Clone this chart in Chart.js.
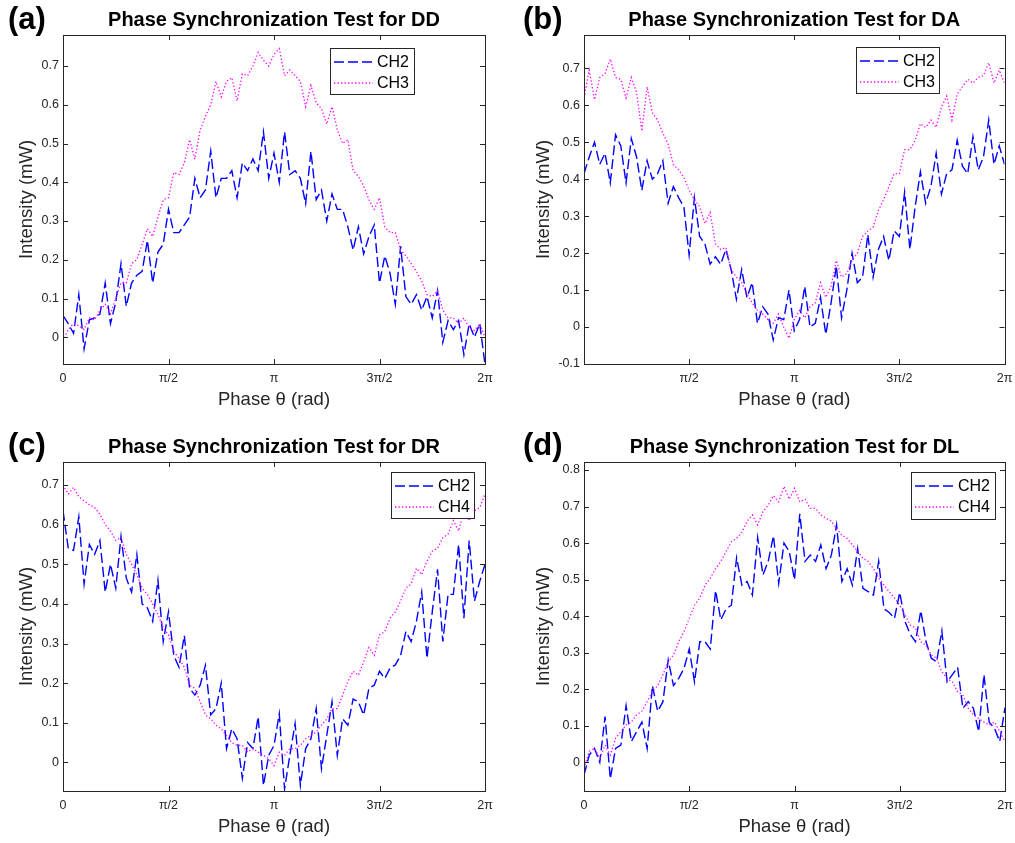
<!DOCTYPE html>
<html>
<head>
<meta charset="utf-8">
<title>Phase Synchronization Test</title>
<script src="https://cdn.jsdelivr.net/npm/chart.js@4.4.1/dist/chart.umd.min.js"></script>
<style>
    html, body { margin: 0; padding: 0; background: #ffffff; }
    body { width: 1015px; height: 843px; position: relative; overflow: hidden; }
    canvas { position: absolute; }
    .panel-tag {
        position: absolute;
        font: bold 31px "Liberation Sans", Arial, Helvetica, sans-serif;
        line-height: 1;
        color: #000000;
    }
</style>
</head>
<body>
<canvas id="chartDD" width="507" height="427" style="left:0;top:0"></canvas>
<canvas id="chartDA" width="508" height="427" style="left:507px;top:0"></canvas>
<canvas id="chartDR" width="507" height="416" style="left:0;top:427px"></canvas>
<canvas id="chartDL" width="508" height="416" style="left:507px;top:427px"></canvas>
<div class="panel-tag" style="left:8px;top:3px">(a)</div>
<div class="panel-tag" style="left:523px;top:3px">(b)</div>
<div class="panel-tag" style="left:8px;top:429px">(c)</div>
<div class="panel-tag" style="left:523px;top:429px">(d)</div>

<script>
// x ticks (rad) and their labels
const xTickValues = [0, Math.PI / 2, Math.PI, 3 * Math.PI / 2, 2 * Math.PI];
const xTickLabels = ["0", "π/2", "π", "3π/2", "2π"];

const yTicksDD = [0, 0.1, 0.2, 0.3, 0.4, 0.5, 0.6, 0.7];
const yTicksDA = [-0.1, 0, 0.1, 0.2, 0.3, 0.4, 0.5, 0.6, 0.7];
const yTicksDR = [0, 0.1, 0.2, 0.3, 0.4, 0.5, 0.6, 0.7];
const yTicksDL = [0, 0.1, 0.2, 0.3, 0.4, 0.5, 0.6, 0.7, 0.8];

// intensity (mW), sampled evenly over 0..2pi
const ddCh2 = [
    0.056, 0.035, 0.01, 0.11, -0.03, 0.045, 0.05, 0.06, 0.14,
    0.035, 0.09, 0.19, 0.08, 0.14, 0.16, 0.17, 0.25, 0.14,
    0.22, 0.24, 0.33, 0.27, 0.27, 0.29, 0.31, 0.41, 0.36,
    0.38, 0.48, 0.36, 0.41, 0.41, 0.43, 0.36, 0.45, 0.43,
    0.46, 0.43, 0.53, 0.41, 0.475, 0.40, 0.53, 0.42, 0.43,
    0.41, 0.345, 0.48, 0.355, 0.38, 0.30, 0.37, 0.33, 0.33,
    0.285, 0.225, 0.285, 0.215, 0.26, 0.29, 0.14, 0.21, 0.165,
    0.085, 0.235, 0.105, 0.085, 0.11, 0.07, 0.105, 0.05, 0.12,
    -0.013, 0.043, 0.02, 0.043, -0.045, 0.035, 0, 0.035, -0.07
];
const ddCh3 = [
    -0.01, 0.02, 0.035, 0.03, 0.02, 0.05, 0.045, 0.07, 0.085,
    0.06, 0.10, 0.14, 0.14, 0.19, 0.20, 0.24, 0.28, 0.26,
    0.31, 0.355, 0.36, 0.425, 0.42, 0.45, 0.51, 0.46, 0.535,
    0.57, 0.60, 0.66, 0.62, 0.66, 0.67, 0.61, 0.68, 0.675,
    0.70, 0.735, 0.715, 0.70, 0.73, 0.745, 0.675, 0.69, 0.675,
    0.66, 0.595, 0.65, 0.605, 0.59, 0.55, 0.595, 0.535, 0.50,
    0.51, 0.43, 0.415, 0.39, 0.355, 0.33, 0.36, 0.285, 0.27,
    0.27, 0.225, 0.21, 0.19, 0.17, 0.145, 0.11, 0.105, 0.12,
    0.07, 0.05, 0.05, 0.035, 0.05, 0.025, 0.017, 0.035, 0
];
const daCh2 = [
    0.415, 0.46, 0.50, 0.44, 0.47, 0.39, 0.52, 0.49, 0.39,
    0.51, 0.46, 0.37, 0.45, 0.40, 0.415, 0.45, 0.335, 0.38,
    0.35, 0.325, 0.195, 0.35, 0.245, 0.225, 0.17, 0.19, 0.17,
    0.21, 0.155, 0.075, 0.155, 0.08, 0.12, 0.01, 0.055, 0.035,
    -0.035, 0.025, 0.02, 0.10, -0.01, 0.02, 0.11, 0, 0.01,
    0.08, -0.02, 0.065, 0.165, 0.025, 0.10, 0.20, 0.12, 0.135,
    0.25, 0.135, 0.21, 0.245, 0.18, 0.26, 0.245, 0.365, 0.21,
    0.325, 0.42, 0.335, 0.38, 0.47, 0.36, 0.415, 0.425, 0.505,
    0.435, 0.415, 0.515, 0.425, 0.46, 0.56, 0.44, 0.49, 0.44
];
const daCh3 = [
    0.62, 0.695, 0.615, 0.675, 0.685, 0.725, 0.675, 0.67, 0.62,
    0.675, 0.635, 0.53, 0.65, 0.58, 0.56, 0.525, 0.495, 0.44,
    0.425, 0.405, 0.37, 0.345, 0.325, 0.28, 0.31, 0.225, 0.21,
    0.215, 0.155, 0.135, 0.12, 0.09, 0.065, 0.045, 0.035, 0.02,
    0.01, 0.035, 0, -0.03, 0.02, 0.045, 0.025, 0.055, 0.065,
    0.12, 0.08, 0.11, 0.18, 0.135, 0.145, 0.18, 0.20, 0.245,
    0.26, 0.27, 0.315, 0.345, 0.38, 0.415, 0.415, 0.48, 0.48,
    0.505, 0.55, 0.54, 0.56, 0.54, 0.595, 0.625, 0.56, 0.63,
    0.65, 0.67, 0.66, 0.675, 0.68, 0.715, 0.66, 0.695, 0.66
];
const drCh2 = [
    0.635, 0.54, 0.535, 0.62, 0.45, 0.55, 0.525, 0.56, 0.43,
    0.50, 0.44, 0.57, 0.465, 0.43, 0.525, 0.40, 0.39, 0.356,
    0.46, 0.305, 0.38, 0.27, 0.24, 0.32, 0.187, 0.17, 0.195,
    0.245, 0.12, 0.136, 0.20, 0.035, 0.085, 0.06, -0.04, 0.05,
    0.035, 0.115, -0.058, 0.018, 0.043, 0.123, -0.067, 0.018, 0.098,
    -0.058, 0.035, 0.06, 0.136, -0.016, 0.068, 0.153, 0.018, 0.11,
    0.094, 0.16, 0.153, 0.12, 0.187, 0.195, 0.23, 0.212, 0.238,
    0.246, 0.27, 0.33, 0.305, 0.356, 0.43, 0.263, 0.38, 0.487,
    0.305, 0.424, 0.424, 0.55, 0.364, 0.56, 0.407, 0.457, 0.50
];
const drCh4 = [
    0.70, 0.677, 0.694, 0.67, 0.66, 0.65, 0.643, 0.626, 0.60,
    0.584, 0.56, 0.567, 0.525, 0.50, 0.474, 0.44, 0.424, 0.40,
    0.373, 0.34, 0.322, 0.28, 0.263, 0.24, 0.195, 0.187, 0.153,
    0.12, 0.11, 0.094, 0.085, 0.068, 0.05, 0.043, 0.043, 0.026,
    0.035, 0.026, 0.018, 0.01, -0.008, 0.026, 0.018, 0.035, 0.035,
    0.043, 0.06, 0.068, 0.077, 0.094, 0.11, 0.136, 0.136, 0.17,
    0.204, 0.23, 0.22, 0.254, 0.29, 0.27, 0.322, 0.33, 0.364,
    0.38, 0.407, 0.44, 0.45, 0.49, 0.474, 0.508, 0.533, 0.54,
    0.567, 0.576, 0.61, 0.584, 0.635, 0.61, 0.635, 0.643, 0.677
];
const dlCh2 = [
    -0.035, 0.02, 0.038, 0, 0.125, -0.045, 0.038, 0.047, 0.155,
    0.057, 0.084, 0.11, 0.038, 0.21, 0.14, 0.166, 0.28, 0.21,
    0.23, 0.257, 0.31, 0.22, 0.33, 0.33, 0.31, 0.47, 0.39,
    0.42, 0.43, 0.56, 0.485, 0.495, 0.458, 0.615, 0.513, 0.55,
    0.62, 0.49, 0.60, 0.577, 0.50, 0.68, 0.55, 0.567, 0.55,
    0.595, 0.53, 0.567, 0.65, 0.495, 0.53, 0.485, 0.585, 0.476,
    0.467, 0.458, 0.55, 0.42, 0.41, 0.394, 0.465, 0.385, 0.35,
    0.33, 0.415, 0.33, 0.285, 0.275, 0.36, 0.22, 0.24, 0.26,
    0.148, 0.166, 0.148, 0.084, 0.24, 0.11, 0.093, 0.057, 0.15
];
const dlCh4 = [
    -0.016, 0.03, 0.038, 0.011, 0.047, 0.02, 0.066, 0.084, 0.102,
    0.11, 0.13, 0.14, 0.166, 0.193, 0.21, 0.24, 0.275, 0.294,
    0.33, 0.358, 0.394, 0.43, 0.45, 0.485, 0.504, 0.53, 0.55,
    0.577, 0.604, 0.613, 0.63, 0.66, 0.677, 0.65, 0.686, 0.704,
    0.73, 0.713, 0.755, 0.72, 0.75, 0.713, 0.72, 0.695, 0.695,
    0.677, 0.668, 0.66, 0.64, 0.622, 0.613, 0.595, 0.577, 0.558,
    0.55, 0.53, 0.504, 0.485, 0.467, 0.45, 0.43, 0.403, 0.376,
    0.367, 0.33, 0.32, 0.294, 0.285, 0.248, 0.23, 0.22, 0.193,
    0.184, 0.148, 0.13, 0.12, 0.11, 0.102, 0.11, 0.084, 0.057
];

const FONT = "'Liberation Sans', Arial, Helvetica, sans-serif";
const AXIS_COLOR = "#262626";
const CH2_STYLE = {color: "#0000ff", width: 1.4, dash: [10, 4]};
const DOT_STYLE = {color: "#ff00ff", width: 1.3, dash: [1.3, 2.2]};

function phaseAt(i, n) {
    return i * 2 * Math.PI / (n - 1);
}

function tickText(value) {
    return String(Math.round(value * 10) / 10);
}

// box, inward tick marks and legend, drawn the matlab way
const matlabAxes = {
    id: "matlabAxes",
    afterDatasetsDraw(chart, args, opts) {
        const {ctx, chartArea: a, scales: {x, y}} = chart;
        const tl = 5;
        ctx.save();
        ctx.strokeStyle = AXIS_COLOR;
        ctx.lineWidth = 1;
        ctx.setLineDash([]);
        ctx.beginPath();
        for (const t of x.ticks) {
            const px = Math.round(x.getPixelForValue(t.value)) + 0.5;
            ctx.moveTo(px, a.bottom);
            ctx.lineTo(px, a.bottom - tl);
            ctx.moveTo(px, a.top);
            ctx.lineTo(px, a.top + tl);
        }
        for (const t of y.ticks) {
            const py = Math.round(y.getPixelForValue(t.value)) + 0.5;
            ctx.moveTo(a.left, py);
            ctx.lineTo(a.left + tl, py);
            ctx.moveTo(a.right, py);
            ctx.lineTo(a.right - tl, py);
        }
        ctx.stroke();
        ctx.strokeRect(Math.round(a.left) + 0.5, Math.round(a.top) + 0.5,
            Math.round(a.right - a.left), Math.round(a.bottom - a.top));

        const box = opts.box;
        if (box) {
            ctx.fillStyle = "#ffffff";
            ctx.fillRect(box.x, box.y, box.w, box.h);
            ctx.strokeRect(box.x + 0.5, box.y + 0.5, box.w, box.h);
            ctx.font = "16px " + FONT;
            ctx.textBaseline = "middle";
            chart.data.datasets.forEach((ds, k) => {
                const ry = box.y + 14 + k * 21;
                ctx.strokeStyle = ds.borderColor;
                ctx.lineWidth = ds.borderWidth;
                ctx.setLineDash(ds.borderDash);
                ctx.beginPath();
                ctx.moveTo(box.x + 4, ry);
                ctx.lineTo(box.x + 43, ry);
                ctx.stroke();
                ctx.setLineDash([]);
                ctx.fillStyle = "#000000";
                ctx.fillText(ds.label, box.x + 47, ry + 1);
            });
        }
        ctx.restore();
    }
};

function buildChart(p) {
    const canvas = document.getElementById(p.canvasId);
    const W = canvas.width;
    const H = canvas.height;
    const axisSize = 18.5;
    const axisLH = axisSize * 1.2;
    const tickFont = {family: FONT, size: 12.5};

    const datasets = p.series.map((s, k) => ({
        label: s.label,
        data: s.values.map((v, i) => ({x: phaseAt(i, s.values.length), y: v})),
        borderColor: s.style.color,
        borderWidth: s.style.width,
        borderDash: s.style.dash,
        pointRadius: 0,
        tension: 0,
        fill: false,
        clip: 0,
        order: p.series.length - k
    }));

    const config = {
        type: "line",
        data: {datasets: datasets},
        options: {
            responsive: false,
            animation: false,
            events: [],
            layout: {
                padding: {left: 0, top: 0, right: W - p.plot.right, bottom: 0}
            },
            plugins: {
                legend: {display: false},
                tooltip: {enabled: false},
                title: {
                    display: true,
                    text: p.title,
                    fullSize: false,
                    color: "#000000",
                    font: {family: FONT, size: 20, weight: "bold", lineHeight: 1.2},
                    padding: {top: 8, bottom: p.plot.top - 8 - 24}
                },
                matlabAxes: {box: p.legendBox}
            },
            scales: {
                x: {
                    type: "linear",
                    min: 0,
                    max: 2 * Math.PI,
                    grid: {display: false, drawTicks: false},
                    border: {display: false},
                    afterBuildTicks: (s) => {
                        s.ticks = p.xTicks.map(v => ({value: v}));
                    },
                    afterFit: (s) => {
                        s.height = H - p.plot.bottom;
                        s.paddingLeft = 0;
                        s.paddingRight = 0;
                    },
                    ticks: {
                        padding: 7,
                        color: AXIS_COLOR,
                        font: tickFont,
                        maxRotation: 0,
                        autoSkip: false,
                        callback: (value) => {
                            const k = xTickValues.findIndex(v => Math.abs(v - value) < 1e-9);
                            return xTickLabels[k];
                        }
                    },
                    title: {
                        display: true,
                        text: "Phase θ (rad)",
                        color: AXIS_COLOR,
                        font: {family: FONT, size: axisSize},
                        padding: {top: 0, bottom: H - 400 - axisLH / 2}
                    }
                },
                y: {
                    type: "linear",
                    min: p.yMin,
                    max: p.yMax,
                    grid: {display: false, drawTicks: false},
                    border: {display: false},
                    afterBuildTicks: (s) => {
                        s.ticks = p.yTicks.map(v => ({value: v}));
                    },
                    afterFit: (s) => {
                        s.width = p.plot.left;
                        s.paddingTop = 0;
                        s.paddingBottom = 0;
                    },
                    ticks: {
                        padding: 4,
                        color: AXIS_COLOR,
                        font: tickFont,
                        callback: (value) => tickText(value)
                    },
                    title: {
                        display: true,
                        text: "Intensity (mW)",
                        color: AXIS_COLOR,
                        font: {family: FONT, size: axisSize},
                        padding: {top: p.yLabelX - axisLH / 2, bottom: 0}
                    }
                }
            }
        },
        plugins: [matlabAxes]
    };

    return new Chart(canvas.getContext("2d"), config);
}

function initCharts() {
    buildChart({
        canvasId: "chartDD",
        title: "Phase Synchronization Test for DD",
        plot: {left: 63, top: 35, right: 485, bottom: 364},
        yLabelX: 27,
        yMin: -0.069, yMax: 0.78,
        yTicks: yTicksDD,
        xTicks: xTickValues,
        legendBox: {x: 330, y: 48, w: 84, h: 46},
        series: [
            {label: "CH2", values: ddCh2, style: CH2_STYLE},
            {label: "CH3", values: ddCh3, style: DOT_STYLE}
        ]
    });
    buildChart({
        canvasId: "chartDA",
        title: "Phase Synchronization Test for DA",
        plot: {left: 77, top: 35, right: 497.5, bottom: 364},
        yLabelX: 37,
        yMin: -0.1, yMax: 0.79,
        yTicks: yTicksDA,
        xTicks: xTickValues.slice(1),
        legendBox: {x: 349, y: 47, w: 83, h: 46},
        series: [
            {label: "CH2", values: daCh2, style: CH2_STYLE},
            {label: "CH3", values: daCh3, style: DOT_STYLE}
        ]
    });
    buildChart({
        canvasId: "chartDR",
        title: "Phase Synchronization Test for DR",
        plot: {left: 63, top: 35, right: 485, bottom: 364},
        yLabelX: 27,
        yMin: -0.072, yMax: 0.758,
        yTicks: yTicksDR,
        xTicks: xTickValues,
        legendBox: {x: 391, y: 45, w: 83, h: 46},
        series: [
            {label: "CH2", values: drCh2, style: CH2_STYLE},
            {label: "CH4", values: drCh4, style: DOT_STYLE}
        ]
    });
    buildChart({
        canvasId: "chartDL",
        title: "Phase Synchronization Test for DL",
        plot: {left: 77, top: 35, right: 498, bottom: 364},
        yLabelX: 37,
        yMin: -0.0785, yMax: 0.822,
        yTicks: yTicksDL,
        xTicks: xTickValues,
        legendBox: {x: 404, y: 45, w: 84, h: 47},
        series: [
            {label: "CH2", values: dlCh2, style: CH2_STYLE},
            {label: "CH4", values: dlCh4, style: DOT_STYLE}
        ]
    });
}

document.addEventListener("DOMContentLoaded", function () {
    initCharts();
});
</script>
</body>
</html>
